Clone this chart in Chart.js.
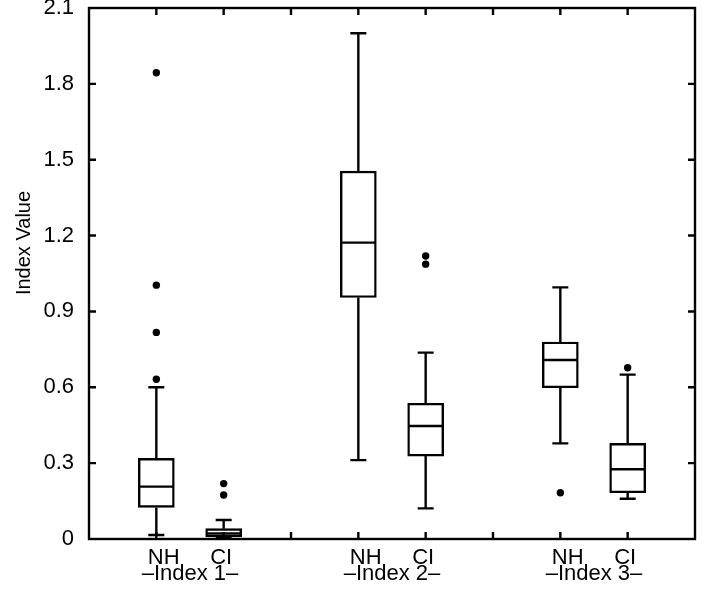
<!DOCTYPE html>
<html lang="en">
<head>
<meta charset="UTF-8">
<title>Index Value</title>
<script src="https://cdn.jsdelivr.net/npm/chart.js"></script>
<style>
  html, body { margin: 0; padding: 0; background: #fff; }
  #wrap { width: 713px; height: 600px; }
</style>
</head>
<body>
<div id="wrap"><canvas id="boxChart"></canvas></div>
<script>
// box plot values
const categories = ['NH', 'CI', 'NH', 'CI', 'NH', 'CI'];
const positions = [1, 2, 4, 5, 7, 8];
const groupNames = ['Index 1', 'Index 2', 'Index 3'];
const groupPositions = [1.5, 4.5, 7.5];
const whiskerLow = [0.016, 0.003, 0.312, 0.121, 0.378, 0.159];
const q1 = [0.125, 0.008, 0.955, 0.328, 0.598, 0.183];
const median = [0.207, 0.022, 1.172, 0.447, 0.708, 0.276];
const q3 = [0.319, 0.041, 1.455, 0.537, 0.779, 0.378];
const whiskerHigh = [0.600, 0.075, 2.000, 0.737, 0.995, 0.650];
const outliers = [[1.844, 1.004, 0.817, 0.632], [0.219, 0.174], [], [1.119, 1.087], [0.183], [0.677]];
const yTicks = [0, 0.3, 0.6, 0.9, 1.2, 1.5, 1.8, 2.1];

const FONT = 'Liberation Sans, Arial, Helvetica, sans-serif';

const groupLabels = groupNames.map((g, i) => [
    categories[i * 2] + '     ' + categories[i * 2 + 1],
    '\u2013' + g + '\u2013'
]);

const outlierPoints = [];
outliers.forEach((list, i) => list.forEach(v => outlierPoints.push({ x: positions[i], y: v })));

const boxParts = {
    id: 'boxParts',
    beforeDatasetsDraw(chart) {
        const { ctx, scales: { x, y } } = chart;
        ctx.save();
        ctx.strokeStyle = '#000';
        ctx.lineWidth = 2.4;
        const cap = 8;
        positions.forEach((p, i) => {
            const px = x.getPixelForValue(p);
            const hi = y.getPixelForValue(whiskerHigh[i]);
            const lo = y.getPixelForValue(whiskerLow[i]);
            ctx.beginPath();
            ctx.moveTo(px, y.getPixelForValue(q3[i]));
            ctx.lineTo(px, hi);
            ctx.moveTo(px - cap, hi);
            ctx.lineTo(px + cap, hi);
            ctx.moveTo(px, y.getPixelForValue(q1[i]));
            ctx.lineTo(px, lo);
            ctx.moveTo(px - cap, lo);
            ctx.lineTo(px + cap, lo);
            ctx.stroke();
        });
        ctx.restore();
    },
    afterDatasetsDraw(chart) {
        const { ctx, scales: { x, y } } = chart;
        ctx.save();
        ctx.strokeStyle = '#000';
        ctx.lineWidth = 2.4;
        const half = 17;
        positions.forEach((p, i) => {
            const px = x.getPixelForValue(p);
            const py = y.getPixelForValue(median[i]);
            ctx.beginPath();
            ctx.moveTo(px - half, py);
            ctx.lineTo(px + half, py);
            ctx.stroke();
        });
        ctx.restore();
    },
    afterDraw(chart) {
        const { ctx, chartArea: a, scales: { x, y } } = chart;
        ctx.save();
        ctx.strokeStyle = '#000';
        ctx.lineWidth = 2.4;
        ctx.strokeRect(a.left, a.top, a.right - a.left, a.bottom - a.top);
        const tl = 7;
        ctx.beginPath();
        x.ticks.forEach(t => {
            if (t.value <= x.min || t.value >= x.max) return;
            const px = x.getPixelForValue(t.value);
            ctx.moveTo(px, a.bottom);
            ctx.lineTo(px, a.bottom - tl);
            ctx.moveTo(px, a.top);
            ctx.lineTo(px, a.top + tl);
        });
        y.ticks.forEach(t => {
            if (t.value <= y.min || t.value >= y.max) return;
            const py = y.getPixelForValue(t.value);
            ctx.moveTo(a.left, py);
            ctx.lineTo(a.left + tl, py);
            ctx.moveTo(a.right, py);
            ctx.lineTo(a.right - tl, py);
        });
        ctx.stroke();

        // y axis title
        ctx.fillStyle = '#000';
        ctx.font = '20px ' + FONT;
        ctx.textAlign = 'center';
        ctx.textBaseline = 'alphabetic';
        ctx.translate(30, 243);
        ctx.rotate(-Math.PI / 2);
        ctx.fillText('Index Value', 0, 0);
        ctx.restore();
    }
};

new Chart(document.getElementById('boxChart'), {
    type: 'bar',
    data: {
        datasets: [{
            type: 'bar',
            data: positions.map((p, i) => ({ x: p, y: [q1[i], q3[i]] })),
            backgroundColor: '#fff',
            borderColor: '#000',
            borderWidth: 2.4,
            borderSkipped: false,
            barThickness: 36
        }, {
            type: 'scatter',
            data: outlierPoints,
            pointRadius: 3.7,
            pointBackgroundColor: '#000',
            pointBorderWidth: 0
        }]
    },
    options: {
        responsive: true,
        maintainAspectRatio: false,
        animation: false,
        layout: { padding: { top: 8, right: 18, left: 0, bottom: 0 } },
        plugins: { legend: { display: false }, tooltip: { enabled: false } },
        scales: {
            x: {
                type: 'linear', min: 0, max: 9, offset: false,
                ticks: { display: false, stepSize: 1 },
                grid: { display: false, drawTicks: false, offset: false },
                border: { display: false },
                afterFit(s) { s.height = 0; s.paddingLeft = 0; s.paddingRight = 0; }
            },
            xg: {
                type: 'linear', position: 'bottom', min: 0, max: 9, offset: false,
                afterBuildTicks(s) { s.ticks = groupPositions.map(v => ({ value: v })); },
                ticks: {
                    autoSkip: false, maxRotation: 0, padding: 11, color: '#000',
                    font: { family: FONT, size: 22, lineHeight: 0.72 },
                    callback: v => groupLabels[groupPositions.indexOf(v)]
                },
                grid: { display: false, drawTicks: false, offset: false },
                border: { display: false },
                afterFit(s) { s.height = 61; s.paddingLeft = 0; s.paddingRight = 0; }
            },
            y: {
                type: 'linear', min: 0, max: 2.1,
                afterBuildTicks(s) { s.ticks = yTicks.map(v => ({ value: v })); },
                ticks: {
                    padding: 15, color: '#000',
                    font: { family: FONT, size: 22 },
                    callback: v => String(v)
                },
                grid: { display: false, drawTicks: false },
                border: { display: false },
                afterFit(s) { s.width = 89; s.paddingTop = 0; s.paddingBottom = 0; }
            }
        }
    },
    plugins: [boxParts]
});
</script>
</body>
</html>
